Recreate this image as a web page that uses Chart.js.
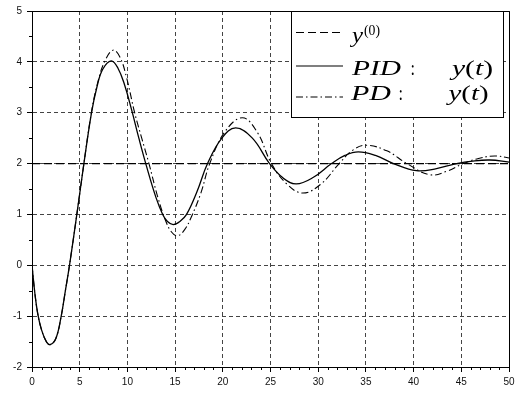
<!DOCTYPE html>
<html>
<head>
<meta charset="utf-8">
<style>
  html, body { margin: 0; padding: 0; background: #fff; }
  #wrap { width: 519px; height: 394px; position: relative; }
</style>
<script src="https://cdn.jsdelivr.net/npm/chart.js@4.4.1/dist/chart.umd.min.js"></script>
</head>
<body>
<div id="wrap"><canvas id="stepChart"></canvas></div>
<script>
// axis ticks
const xTicks = [0, 5, 10, 15, 20, 25, 30, 35, 40, 45, 50];
const yTicks = [-2, -1, 0, 1, 2, 3, 4, 5];

// reference level y(0)
const refLevel = 2;

// PID response y(t)
const tPid = [0, 0.3, 0.6, 1.0, 1.5, 1.9, 2.5, 3.06, 3.5, 3.93, 4.7, 5.44, 6.24, 6.8, 7.4, 8.3, 9.0, 9.7, 10.45, 11.2, 12.0,
  13.0, 13.7, 14.2, 14.8, 15.5, 16.2, 17.3, 18.4, 19.9, 21.35, 23.1, 24.9, 26.3, 27.7, 29.5, 31.4, 32.8, 34.2, 36.0, 37.9,
  40.3, 42.4, 44.5, 46.2, 48.0, 50];
const yPid = [0, -0.55, -0.95, -1.27, -1.5, -1.56, -1.44, -1.0, -0.5, 0, 1.0, 2.0, 3.0, 3.5, 3.85, 4.02, 3.88, 3.55, 3.05, 2.5, 1.95,
  1.33, 1.0, 0.86, 0.8, 0.86, 1.0, 1.45, 2.0, 2.5, 2.7, 2.5, 2.0, 1.72, 1.6, 1.73, 2.0, 2.16, 2.23, 2.16, 2.0,
  1.86, 1.9, 2.0, 2.05, 2.07, 2.03];

// PD response y(t)
const tPd = [0, 0.3, 0.6, 1.0, 1.5, 1.9, 2.5, 3.06, 3.5, 3.93, 4.7, 5.44, 6.24, 6.9, 7.6, 8.48, 9.2, 9.9, 10.76, 11.5, 12.26,
  13.2, 14.0, 14.6, 15.25, 16.0, 16.7, 17.7, 18.63, 20.2, 22.05, 23.6, 25.1, 26.7, 28.4, 30.3, 32.2, 33.6, 35.0, 37.2, 39.3,
  41.7, 43.5, 45.2, 46.8, 48.5, 50];
const yPd = [0, -0.55, -0.95, -1.27, -1.5, -1.56, -1.44, -1.0, -0.5, 0, 1.0, 2.0, 3.02, 3.6, 4.0, 4.23, 4.1, 3.7, 3.0, 2.5, 2.0,
  1.33, 0.88, 0.66, 0.58, 0.7, 0.95, 1.42, 2.0, 2.62, 2.9, 2.62, 2.0, 1.6, 1.42, 1.6, 2.0, 2.26, 2.36, 2.25, 2.0,
  1.78, 1.85, 2.0, 2.1, 2.15, 2.11];

const toPoints = (xs, ys) => xs.map((x, i) => ({ x: x, y: ys[i] }));

const tickFont = { family: "'Liberation Sans', Arial, sans-serif", size: 10 };
const serif = "'Liberation Serif', 'DejaVu Serif', serif";

// draw a run of math pieces stretched to a target width
function drawMath(ctx, pieces, x, base, w, size) {
  let total = 0;
  pieces.forEach(p => {
    ctx.font = (p[1] ? 'italic ' : '') + size + 'px ' + serif;
    total += ctx.measureText(p[0]).width;
  });
  const sx = w / total;
  ctx.save();
  ctx.translate(x, base);
  ctx.scale(sx, 1);
  let cx = 0;
  pieces.forEach(p => {
    ctx.font = (p[1] ? 'italic ' : '') + size + 'px ' + serif;
    ctx.fillText(p[0], cx, 0);
    cx += ctx.measureText(p[0]).width;
  });
  ctx.restore();
}

const frameAndLegend = {
  id: 'frameAndLegend',
  afterDraw(chart) {
    const { ctx, chartArea: a, scales: { x, y } } = chart;
    ctx.save();
    ctx.strokeStyle = '#000';
    ctx.lineWidth = 1;
    ctx.setLineDash([]);
    // top and right frame
    ctx.beginPath();
    ctx.moveTo(Math.round(a.left), Math.round(a.top) + 0.5);
    ctx.lineTo(Math.round(a.right) + 0.5, Math.round(a.top) + 0.5);
    ctx.lineTo(Math.round(a.right) + 0.5, Math.round(a.bottom));
    ctx.stroke();
    // minor ticks
    ctx.beginPath();
    for (let t = 0; t <= 50; t++) {
      if (t % 5 === 0) continue;
      const px = Math.round(x.getPixelForValue(t)) + 0.5;
      ctx.moveTo(px, a.bottom);
      ctx.lineTo(px, a.bottom + 3);
    }
    for (let v = -1.5; v < 5; v += 1) {
      const py = Math.round(y.getPixelForValue(v)) + 0.5;
      ctx.moveTo(a.left - 3, py);
      ctx.lineTo(a.left, py);
    }
    ctx.stroke();

    // legend box
    ctx.fillStyle = '#fff';
    ctx.fillRect(291, 11, 212, 106);
    ctx.strokeRect(291.5, 11.5, 212, 106);

    const samples = [[32.5, [8, 4]], [66, []], [97, [7, 3, 1.5, 3]]];
    ctx.lineWidth = 1.1;
    samples.forEach(s => {
      ctx.setLineDash(s[1]);
      ctx.beginPath();
      ctx.moveTo(296, s[0]);
      ctx.lineTo(343, s[0]);
      ctx.stroke();
    });
    ctx.setLineDash([]);

    ctx.fillStyle = '#000';
    ctx.textBaseline = 'alphabetic';
    ctx.textAlign = 'left';
    drawMath(ctx, [['y', true]], 352, 41.5, 11, 21);
    drawMath(ctx, [['(0)', false]], 364, 34.5, 16, 14);

    drawMath(ctx, [['PID', true]], 352, 74.5, 49, 21);
    drawMath(ctx, [[':', false]], 410.5, 74.5, 4.5, 21);
    drawMath(ctx, [['y', true], ['(', false], ['t', true], [')', false]], 452, 74.5, 41, 21);

    drawMath(ctx, [['PD', true]], 351, 100, 40, 21);
    drawMath(ctx, [[':', false]], 398.5, 100, 4.5, 21);
    drawMath(ctx, [['y', true], ['(', false], ['t', true], [')', false]], 448.5, 100, 40, 21);
    ctx.restore();
  }
};

const ctx = document.getElementById('stepChart').getContext('2d');

new Chart(ctx, {
  type: 'line',
  data: {
    datasets: [{
      label: 'y0',
      data: [{ x: 0, y: refLevel }, { x: 50, y: refLevel }],
      borderColor: '#000',
      borderWidth: 1.2,
      borderDash: [8, 4],
      pointRadius: 0,
      tension: 0
    }, {
      label: 'PID',
      data: toPoints(tPid, yPid),
      borderColor: '#000',
      borderWidth: 1.3,
      pointRadius: 0,
      tension: 0.4
    }, {
      label: 'PD',
      data: toPoints(tPd, yPd),
      borderColor: '#000',
      borderWidth: 1.1,
      borderDash: [7, 3, 1.5, 3],
      pointRadius: 0,
      tension: 0.4
    }]
  },
  options: {
    responsive: true,
    maintainAspectRatio: false,
    animation: false,
    layout: {
      padding: { top: 8, right: 10, left: 0, bottom: 0 }
    },
    plugins: {
      legend: { display: false },
      tooltip: { enabled: false }
    },
    scales: {
      x: {
        type: 'linear',
        min: 0,
        max: 50,
        afterFit: (s) => { s.height = 27; },
        afterBuildTicks: (s) => { s.ticks = xTicks.map(v => ({ value: v })); },
        ticks: {
          font: tickFont,
          color: '#111',
          padding: 4,
          maxRotation: 0,
          autoSkip: false
        },
        grid: {
          color: '#444',
          lineWidth: 1,
          drawTicks: true,
          tickLength: 5,
          tickColor: '#000',
          tickBorderDash: []
        },
        border: {
          display: true,
          color: '#000',
          width: 1,
          dash: [4, 3]
        }
      },
      y: {
        type: 'linear',
        min: -2,
        max: 5,
        afterFit: (s) => { s.width = 32; },
        afterBuildTicks: (s) => { s.ticks = yTicks.map(v => ({ value: v })); },
        ticks: {
          font: tickFont,
          color: '#111',
          padding: 5,
          autoSkip: false
        },
        grid: {
          color: '#444',
          lineWidth: 1,
          drawTicks: true,
          tickLength: 5,
          tickColor: '#000',
          tickBorderDash: []
        },
        border: {
          display: true,
          color: '#000',
          width: 1,
          dash: [4, 3]
        }
      }
    }
  },
  plugins: [frameAndLegend]
});
</script>
</body>
</html>
